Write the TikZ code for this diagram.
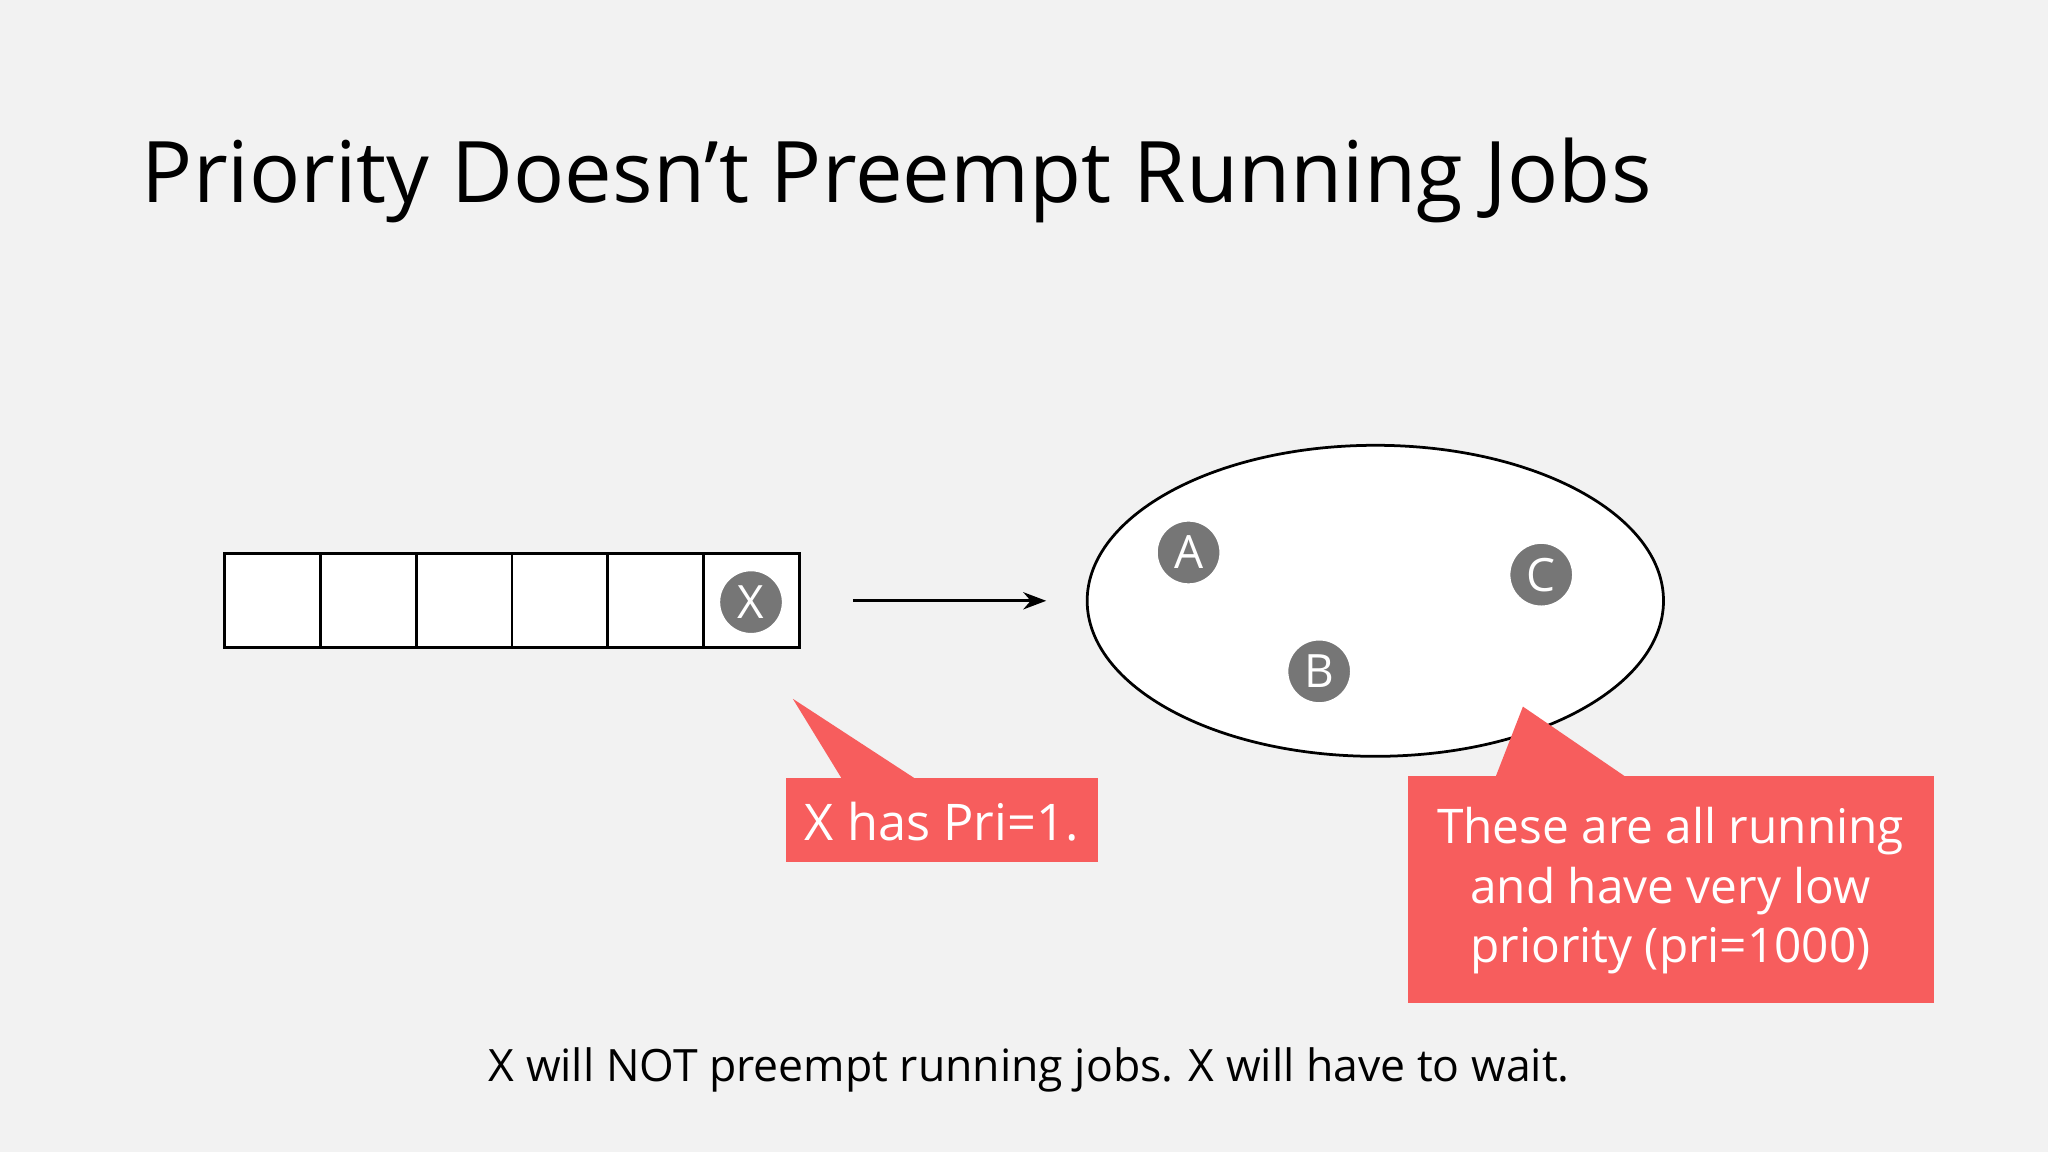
\documentclass[tikz,border=0pt]{standalone}
\usepackage{fontspec}
\setmainfont{Open Sans}
\usetikzlibrary{arrows.meta,shapes.geometric}
\definecolor{bg}{HTML}{F2F2F2}
\definecolor{callout}{HTML}{F75D5D}
\definecolor{job}{HTML}{767676}
\tikzset{cell/.style={draw,fill=white,line width=0.6pt},
 jobc/.style={circle,fill=job,draw=white,line width=0.8pt,minimum size=0.5cm,inner sep=0,text=white,font=\fontsize{10}{10}\selectfont},
 call/.style={fill=callout,draw=none}}
\begin{document}
\begin{tikzpicture}[x=0.01cm,y=-0.01cm]
\fill[bg] (0,0) rectangle (1568,882);
\node[anchor=base west,inner sep=0,font=\fontsize{18.5}{20}\selectfont] (title) at (108,155) {Priority Doesn’t Preempt Running Jobs};
\foreach \i in {0,...,5}{
 \draw[cell] ({172+\i*73.33},424) rectangle ({172+(\i+1)*73.33},496);}
\node[jobc] (x) at (575,461) {X};
\coordinate (a1) at (653,460);
\coordinate (a2) at (801,460);
\draw[-{Stealth[length=5pt]},line width=0.6pt] (a1) -- (a2);
\node[ellipse,draw,fill=white,minimum width=4.41cm,minimum height=2.38cm,inner sep=0,line width=0.6pt] (pool) at (1053,460) {};
\node[jobc] (a) at (910,423) {A};
\node[jobc] (b) at (1010,514) {B};
\node[jobc] (c) at (1180,440) {C};
\fill[call] (645,597) -- (607,535) -- (702,597) -- cycle;
\fill[call] (602,596) rectangle (841,660);
\node[text=white,font=\fontsize{11}{13}\selectfont] (t1) at (721,629) {X has Pri=1.};
\fill[call] (1145,595) -- (1166,541) -- (1245,595) -- cycle;
\fill[call] (1078,594) rectangle (1481,768);
\node[text=white,align=center,font=\fontsize{10.4}{13}\selectfont] (t2) at (1279,682) {These are all running\\and have very low\\priority (pri=1000)};
\node[font=\fontsize{9.7}{12}\selectfont] (foot) at (788,819) {X will NOT preempt running jobs. X will have to wait.};
\end{tikzpicture}
\end{document}
